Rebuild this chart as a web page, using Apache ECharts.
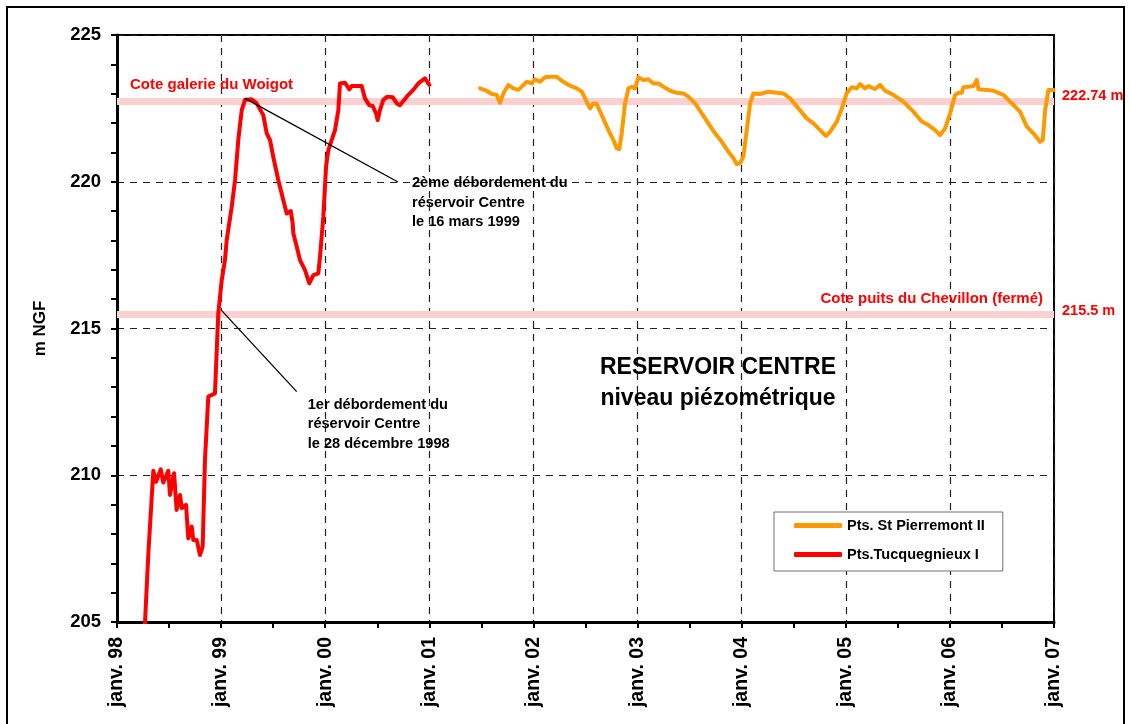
<!DOCTYPE html>
<html>
<head>
<meta charset="utf-8">
<script src="https://cdn.jsdelivr.net/npm/echarts@6/dist/echarts.min.js"></script>
<style>
  html, body { margin: 0; padding: 0; background: #fff; }
  #chart { width: 1131px; height: 724px; }
</style>
</head>
<body>
<div id="chart"></div>
<script>
// Niveau piézométrique du réservoir Centre (m NGF), temps en années décimales.

// Pts.Tucquegnieux I
const tucqYears = [
  1998.26, 1998.301, 1998.349, 1998.375, 1998.420, 1998.445, 1998.493, 1998.509, 1998.548, 1998.573,
  1998.605, 1998.622, 1998.663, 1998.685, 1998.718, 1998.733, 1998.766, 1998.797, 1998.823, 1998.845,
  1998.877, 1998.941, 1998.973, 1999.006, 1999.037, 1999.054, 1999.102, 1999.134, 1999.165, 1999.198,
  1999.230, 1999.294, 1999.342, 1999.405, 1999.438, 1999.470, 1999.501, 1999.549, 1999.597, 1999.630,
  1999.669, 1999.687, 1999.694, 1999.726, 1999.758, 1999.806, 1999.847, 1999.886, 1999.934, 1999.950,
  1999.982, 2000.008, 2000.030, 2000.062, 2000.094, 2000.126, 2000.142, 2000.190, 2000.232, 2000.254,
  2000.350, 2000.382, 2000.423, 2000.456, 2000.488, 2000.504, 2000.526, 2000.558, 2000.597, 2000.648,
  2000.687, 2000.718, 2000.783, 2000.846, 2000.894, 2000.958, 2000.974, 2001.000
];
const tucqLevels = [
  204.3, 207.34, 210.15, 209.78, 210.20, 209.75, 210.15, 209.33, 210.07, 208.82,
  209.33, 208.88, 208.99, 207.85, 208.25, 207.79, 207.79, 207.28, 207.57, 210.52,
  212.68, 212.79, 215.52, 216.65, 217.33, 218.02, 219.15, 220.06, 221.42, 222.44,
  222.79, 222.81, 222.67, 222.27, 221.65, 221.42, 220.85, 220.06, 219.38, 218.92,
  219.00, 218.60, 218.24, 217.79, 217.33, 216.99, 216.54, 216.82, 216.88, 217.45,
  218.81, 220.51, 221.08, 221.42, 221.76, 222.44, 223.35, 223.37, 223.15, 223.26,
  223.26, 222.84, 222.61, 222.58, 222.33, 222.10, 222.44, 222.79, 222.90, 222.88,
  222.67, 222.61, 222.90, 223.13, 223.35, 223.52, 223.47, 223.30
];

// Pts. St Pierremont II
const pierYears = [
  2001.487, 2001.551, 2001.599, 2001.647, 2001.679, 2001.711, 2001.759, 2001.807, 2001.855, 2001.888,
  2001.936, 2001.984, 2002.015, 2002.063, 2002.111, 2002.159, 2002.224, 2002.272, 2002.335, 2002.416,
  2002.464, 2002.496, 2002.527, 2002.544, 2002.575, 2002.608, 2002.656, 2002.720, 2002.768, 2002.800,
  2002.825, 2002.848, 2002.880, 2002.912, 2002.944, 2002.976, 2003.008, 2003.056, 2003.104, 2003.152,
  2003.200, 2003.248, 2003.312, 2003.377, 2003.440, 2003.488, 2003.553, 2003.617, 2003.680, 2003.745,
  2003.809, 2003.873, 2003.921, 2003.953, 2003.985, 2004.016, 2004.049, 2004.081, 2004.113, 2004.177,
  2004.257, 2004.337, 2004.401, 2004.465, 2004.545, 2004.625, 2004.689, 2004.753, 2004.811, 2004.850,
  2004.914, 2004.962, 2005.010, 2005.058, 2005.106, 2005.137, 2005.185, 2005.217, 2005.281, 2005.329,
  2005.378, 2005.457, 2005.553, 2005.649, 2005.730, 2005.793, 2005.858, 2005.906, 2005.954, 2006.002,
  2006.050, 2006.082, 2006.114, 2006.130, 2006.178, 2006.226, 2006.258, 2006.274, 2006.355, 2006.418,
  2006.514, 2006.594, 2006.674, 2006.739, 2006.802, 2006.866, 2006.892, 2006.915, 2006.946, 2006.994
];
const pierLevels = [
  223.18, 223.10, 222.99, 222.96, 222.69, 223.01, 223.30, 223.18, 223.13, 223.24,
  223.41, 223.35, 223.49, 223.41, 223.56, 223.58, 223.58, 223.44, 223.30, 223.18,
  223.07, 222.84, 222.61, 222.50, 222.67, 222.65, 222.27, 221.76, 221.42, 221.14,
  221.11, 221.65, 222.67, 223.18, 223.24, 223.18, 223.56, 223.47, 223.49, 223.35,
  223.35, 223.24, 223.10, 223.03, 223.01, 222.90, 222.67, 222.33, 221.99, 221.65,
  221.36, 221.02, 220.80, 220.60, 220.63, 220.85, 221.76, 222.67, 223.01, 222.99,
  223.07, 223.03, 223.01, 222.84, 222.50, 222.16, 221.99, 221.76, 221.56, 221.71,
  222.05, 222.50, 223.03, 223.22, 223.18, 223.33, 223.18, 223.26, 223.16, 223.30,
  223.10, 222.96, 222.73, 222.39, 222.05, 221.93, 221.76, 221.59, 221.82, 222.33,
  222.96, 223.03, 223.03, 223.22, 223.24, 223.26, 223.47, 223.15, 223.13, 223.10,
  222.96, 222.67, 222.39, 221.88, 221.65, 221.36, 221.42, 222.44, 223.13, 223.13
];

// Cotes de référence (m NGF)
const coteWoigot = 222.74;
const coteChevillon = 215.5;
const coteLabels = ['Cote galerie du Woigot', 'Cote puits du Chevillon (fermé)'];

// Axes
const yearMin = 1998, yearMax = 2007;
const levelMin = 205, levelMax = 225;
const seriesNames = ['Pts. St Pierremont II', 'Pts.Tucquegnieux I'];

// Débordements : point de départ du trait de rappel et extrémité côté texte
const debord1 = { from: [1999.006, 215.61], to: [1999.726, 212.85],
  text: '1er débordement du\nréservoir Centre\nle 28 décembre 1998' };
const debord2 = { from: [1999.230, 222.84], to: [2000.699, 219.99],
  text: '2ème débordement du\nréservoir Centre\nle 16 mars 1999' };

const titleLines = 'RESERVOIR CENTRE\nniveau piézométrique';

const FONT = '"Liberation Sans", Arial, sans-serif';
const toPairs = (xs, ys) => xs.map((x, i) => [x, ys[i]]);

const chart = echarts.init(document.getElementById('chart'));

chart.setOption({
  animation: false,
  backgroundColor: '#fff',
  textStyle: { fontFamily: FONT },
  grid: {
    left: 117, right: 77, top: 35, bottom: 102,
    show: true, borderColor: '#000', borderWidth: 2, backgroundColor: 'transparent'
  },
  xAxis: {
    type: 'value', min: yearMin, max: yearMax, interval: 1,
    axisLine: { lineStyle: { color: '#000', width: 3 } },
    axisTick: { length: 6, lineStyle: { color: '#000', width: 2 } },
    minorTick: { show: true, splitNumber: 2, length: 6, lineStyle: { color: '#000', width: 2 } },
    splitLine: { show: true, lineStyle: { color: '#222', width: 1.2, type: [7, 6] } },
    axisLabel: {
      rotate: 90, margin: 15, color: '#000', fontWeight: 'bold', fontSize: 19.5, fontFamily: FONT,
      formatter: v => 'janv. ' + String(v).slice(2)
    }
  },
  yAxis: {
    type: 'value', min: levelMin, max: levelMax, interval: 5,
    name: 'm NGF', nameLocation: 'middle', nameGap: 68,
    nameTextStyle: { color: '#000', fontWeight: 'bold', fontSize: 17, fontFamily: FONT },
    axisLine: { show: true, lineStyle: { color: '#000', width: 3 } },
    axisTick: { show: true, length: 6, lineStyle: { color: '#000', width: 2 } },
    minorTick: { show: true, splitNumber: 5, length: 6, lineStyle: { color: '#000', width: 2 } },
    splitLine: { show: true, lineStyle: { color: '#222', width: 1.2, type: [7, 6] } },
    axisLabel: { margin: 16, color: '#000', fontWeight: 'bold', fontSize: 18.5, fontFamily: FONT }
  },
  legend: {
    data: seriesNames,
    orient: 'vertical', left: 774, top: 512,
    padding: [5, 18, 8, 20], itemGap: 12,
    itemWidth: 48, itemHeight: 5, itemTextGap: 4, icon: 'roundRect',
    borderColor: '#707070', borderWidth: 1, backgroundColor: '#fff',
    textStyle: { color: '#000', fontWeight: 'bold', fontSize: 14.5, fontFamily: FONT, lineHeight: 17 }
  },
  series: [
    {
      // bandes des cotes de référence, sous les courbes
      name: 'cotes', type: 'line', data: [], z: 1, silent: true,
      markLine: {
        z: 1, silent: true, symbol: ['none', 'none'], animation: false,
        label: { show: false },
        lineStyle: { color: '#FAD0D0', width: 7, type: 'solid' },
        data: [{ yAxis: coteWoigot }, { yAxis: coteChevillon }]
      }
    },
    {
      name: seriesNames[0], type: 'line', z: 3,
      data: toPairs(pierYears, pierLevels),
      showSymbol: false, clip: true,
      itemStyle: { color: '#FF9900' },
      lineStyle: { color: '#FF9900', width: 4, cap: 'round', join: 'round' }
    },
    {
      name: seriesNames[1], type: 'line', z: 3,
      data: toPairs(tucqYears, tucqLevels),
      showSymbol: false, clip: true,
      itemStyle: { color: '#FF0000' },
      lineStyle: { color: '#FF0000', width: 4, cap: 'round', join: 'round' }
    },
    {
      // traits de rappel des débordements
      name: 'rappels', type: 'line', data: [], z: 5, silent: true,
      markLine: {
        z: 6, silent: true, symbol: ['none', 'none'], animation: false,
        label: { show: false },
        lineStyle: { color: '#000', width: 1.3, type: 'solid' },
        data: [
          [{ coord: debord1.from }, { coord: debord1.to }],
          [{ coord: debord2.from }, { coord: debord2.to }]
        ]
      }
    }
  ]
});

// Textes placés à partir des coordonnées de données
const px = p => chart.convertToPixel({ gridIndex: 0 }, p);
const redText = { fill: '#FF0000', font: 'bold 15px ' + FONT };
const redValue = { fill: '#FF0000', font: 'bold 14.5px ' + FONT };
const blackNote = { fill: '#000', font: 'bold 14.6px ' + FONT, lineHeight: 19.5 };

const pWoigotStart = px([yearMin, coteWoigot]);
const pWoigotEnd = px([yearMax, coteWoigot]);
const pChevEnd = px([yearMax, coteChevillon]);
const pD1 = px(debord1.to);
const pD2 = px(debord2.to);

chart.setOption({
  graphic: [
    {
      type: 'rect', z: 0, silent: true,
      shape: { x: 7, y: 7, width: 1117, height: 740 },
      style: { fill: 'none', stroke: '#000', lineWidth: 2 }
    },
    {
      type: 'text', z: 10, silent: true,
      style: Object.assign({ text: coteLabels[0], x: pWoigotStart[0] + 13, y: pWoigotStart[1] - 16,
        textAlign: 'left', textVerticalAlign: 'middle' }, redText)
    },
    {
      type: 'text', z: 10, silent: true,
      style: Object.assign({ text: coteLabels[1], x: pChevEnd[0] - 11, y: pChevEnd[1] - 15,
        textAlign: 'right', textVerticalAlign: 'middle' }, redText)
    },
    {
      type: 'text', z: 10, silent: true,
      style: Object.assign({ text: coteWoigot + ' m', x: pWoigotEnd[0] + 8, y: pWoigotEnd[1] - 5,
        textAlign: 'left', textVerticalAlign: 'middle' }, redValue)
    },
    {
      type: 'text', z: 10, silent: true,
      style: Object.assign({ text: coteChevillon + ' m', x: pChevEnd[0] + 8, y: pChevEnd[1] - 3,
        textAlign: 'left', textVerticalAlign: 'middle' }, redValue)
    },
    {
      type: 'text', z: 10, silent: true,
      style: Object.assign({ text: debord1.text, x: pD1[0] + 11, y: pD1[1] + 3.5,
        textAlign: 'left', textVerticalAlign: 'top' }, blackNote)
    },
    {
      type: 'text', z: 10, silent: true,
      style: Object.assign({ text: debord2.text, x: pD2[0] + 14, y: pD2[1] - 8.5,
        textAlign: 'left', textVerticalAlign: 'top' }, blackNote)
    },
    {
      type: 'text', z: 10, silent: true,
      style: {
        text: titleLines, x: 718, y: 352, textAlign: 'center', textVerticalAlign: 'top',
        fill: '#000', font: 'bold 23px ' + FONT, lineHeight: 31
      }
    }
  ]
});
</script>
</body>
</html>
